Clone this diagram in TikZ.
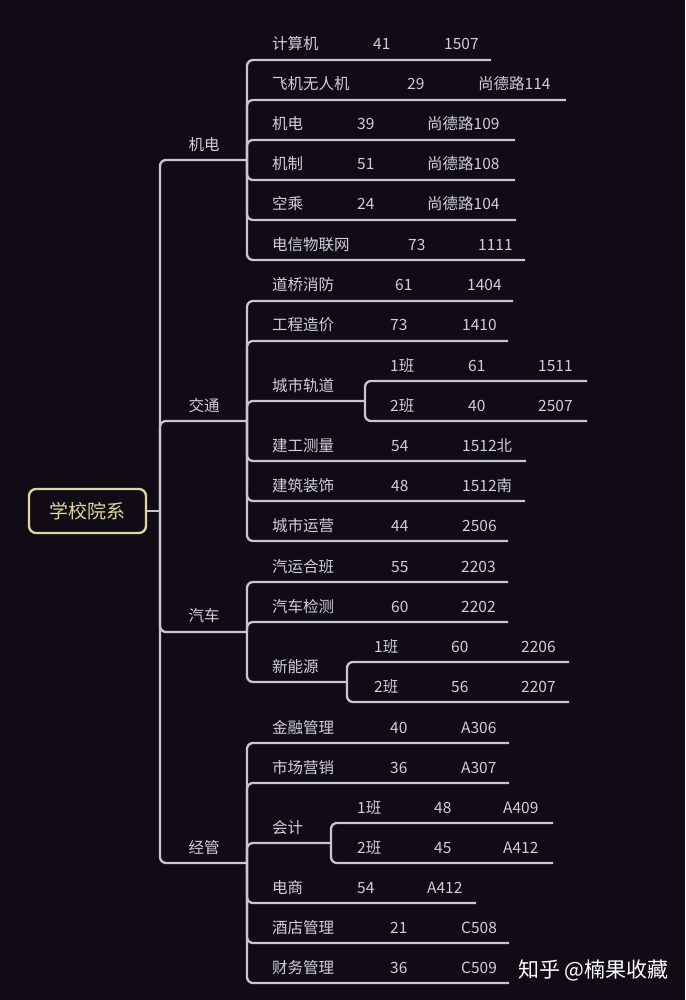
\documentclass[tikz,border=0pt]{standalone}
\usepackage{fontspec}
\newfontfamily\cjk{Noto Sans CJK SC}
\definecolor{bg}{HTML}{100B14}
\definecolor{ln}{HTML}{C6C6D6}
\definecolor{tx}{HTML}{D0D0D8}
\definecolor{rootc}{HTML}{E0D69E}
\tikzset{
  conn/.style={draw=ln, line width=2.3pt, rounded corners=6pt},
  txt/.style={anchor=west, inner sep=0pt, text=tx, text height=12pt, text depth=0.5pt,
    font=\cjk\fontsize{15.5}{16}\selectfont},
  blabel/.style={inner sep=0pt, text=tx, text height=12pt, text depth=0.5pt,
    font=\cjk\fontsize{15.5}{16}\selectfont},
  rootbox/.style={draw=rootc, line width=2.3pt, rounded corners=7pt, minimum width=117pt,
    minimum height=44pt, inner sep=0pt, text=rootc, font=\cjk\fontsize{19}{20}\selectfont},
  wm/.style={anchor=west, inner sep=0pt, text=white, font=\cjk\fontsize{21}{22}\selectfont},
}
\newcommand\itemrow[8]{%
  \node[txt] (#1) at (272,#2) {#3};
  \node[txt] (#1n) at (#4,#2) {#5};
  \node[txt] (#1r) at (#6,#2) {#7};
  \coordinate (#1e) at #8;}
\newcommand\subrow[9]{%
  \node[txt] (#1) at (#2,#3) {#4};
  \node[txt] (#1n) at (#5,#3) {#6};
  \node[txt] (#1r) at (#7,#3) {#8};
  \coordinate (#1e) at #9;}
\begin{document}
\begin{tikzpicture}[x=1pt,y=-1pt]
\fill[bg] (0,0) rectangle (685,1000);
\useasboundingbox (0,0) rectangle (685,1000);

% root
\node[rootbox] (root) at (87.5,511) {学校院系};
\coordinate (R) at (160,511);
\coordinate (G1) at (247,160);
\coordinate (G2) at (247,421);
\coordinate (G3) at (247,632);
\coordinate (G4) at (247,863);
\draw[conn] (root.east) -- (R);
\draw[conn] (R) |- (G1);
\draw[conn] (R) |- (G2);
\draw[conn] (R) |- (G3);
\draw[conn] (R) |- (G4);

% branch labels
\node[blabel] (b1) at (204,145) {机电};
\node[blabel] (b2) at (204,406) {交通};
\node[blabel] (b3) at (204,616) {汽车};
\node[blabel] (b4) at (204,848) {经管};

% group 1
\itemrow{a1}{44}{计算机}{373}{41}{444}{1507}{(491,60)}
\itemrow{a2}{84}{飞机无人机}{407}{29}{478}{尚德路114}{(566,100)}
\itemrow{a3}{124}{机电}{357}{39}{427}{尚德路109}{(515,140)}
\itemrow{a4}{164}{机制}{357}{51}{427}{尚德路108}{(515,180)}
\itemrow{a5}{204}{空乘}{357}{24}{427}{尚德路104}{(516,220)}
\itemrow{a6}{245}{电信物联网}{408}{73}{478}{1111}{(525,260)}
\foreach \i in {1,...,6} {\draw[conn] (G1) |- (a\i e);}

% group 2
\itemrow{c1}{285}{道桥消防}{395}{61}{467}{1404}{(513,301)}
\itemrow{c2}{325}{工程造价}{390}{73}{462}{1410}{(508,341)}
\node[txt] (c3) at (272,386) {城市轨道};
\coordinate (S2) at (365,401);
\subrow{c31}{390}{366}{1班}{468}{61}{538}{1511}{(587,381)}
\subrow{c32}{390}{406}{2班}{468}{40}{538}{2507}{(587,421)}
\itemrow{c4}{446}{建工测量}{391}{54}{462}{1512北}{(526,461)}
\itemrow{c5}{486}{建筑装饰}{391}{48}{462}{1512南}{(525,501)}
\itemrow{c6}{526}{城市运营}{391}{44}{462}{2506}{(508,541)}
\draw[conn] (G2) |- (c1e);
\draw[conn] (G2) |- (c2e);
\draw[conn] (G2) |- (S2);
\draw[conn] (G2) |- (c4e);
\draw[conn] (G2) |- (c5e);
\draw[conn] (G2) |- (c6e);
\draw[conn] (S2) |- (c31e);
\draw[conn] (S2) |- (c32e);

% group 3
\itemrow{d1}{567}{汽运合班}{391}{55}{461}{2203}{(508,582)}
\itemrow{d2}{607}{汽车检测}{391}{60}{461}{2202}{(508,622)}
\node[txt] (d3) at (272,667) {新能源};
\coordinate (S3) at (347,682);
\subrow{d31}{374}{647}{1班}{451}{60}{521}{2206}{(569,662)}
\subrow{d32}{374}{687}{2班}{451}{56}{521}{2207}{(569,702)}
\draw[conn] (G3) |- (d1e);
\draw[conn] (G3) |- (d2e);
\draw[conn] (G3) |- (S3);
\draw[conn] (S3) |- (d31e);
\draw[conn] (S3) |- (d32e);

% group 4
\itemrow{f1}{728}{金融管理}{390}{40}{461}{A306}{(509,743)}
\itemrow{f2}{768}{市场营销}{390}{36}{461}{A307}{(509,783)}
\node[txt] (f3) at (272,828) {会计};
\coordinate (S4) at (331,843);
\subrow{f31}{357}{808}{1班}{434}{48}{503}{A409}{(553,823)}
\subrow{f32}{357}{848}{2班}{434}{45}{503}{A412}{(553,863)}
\itemrow{f4}{888}{电商}{357}{54}{427}{A412}{(476,903)}
\itemrow{f5}{928}{酒店管理}{390}{21}{461}{C508}{(509,943)}
\itemrow{f6}{968}{财务管理}{390}{36}{461}{C509}{(509,983)}
\draw[conn] (G4) |- (f1e);
\draw[conn] (G4) |- (f2e);
\draw[conn] (G4) |- (S4);
\draw[conn] (G4) |- (f4e);
\draw[conn] (G4) |- (f5e);
\draw[conn] (G4) |- (f6e);
\draw[conn] (S4) |- (f31e);
\draw[conn] (S4) |- (f32e);

% watermark
\node[wm] (wmk) at (518,970) {知乎 @楠果收藏};
\end{tikzpicture}
\end{document}
